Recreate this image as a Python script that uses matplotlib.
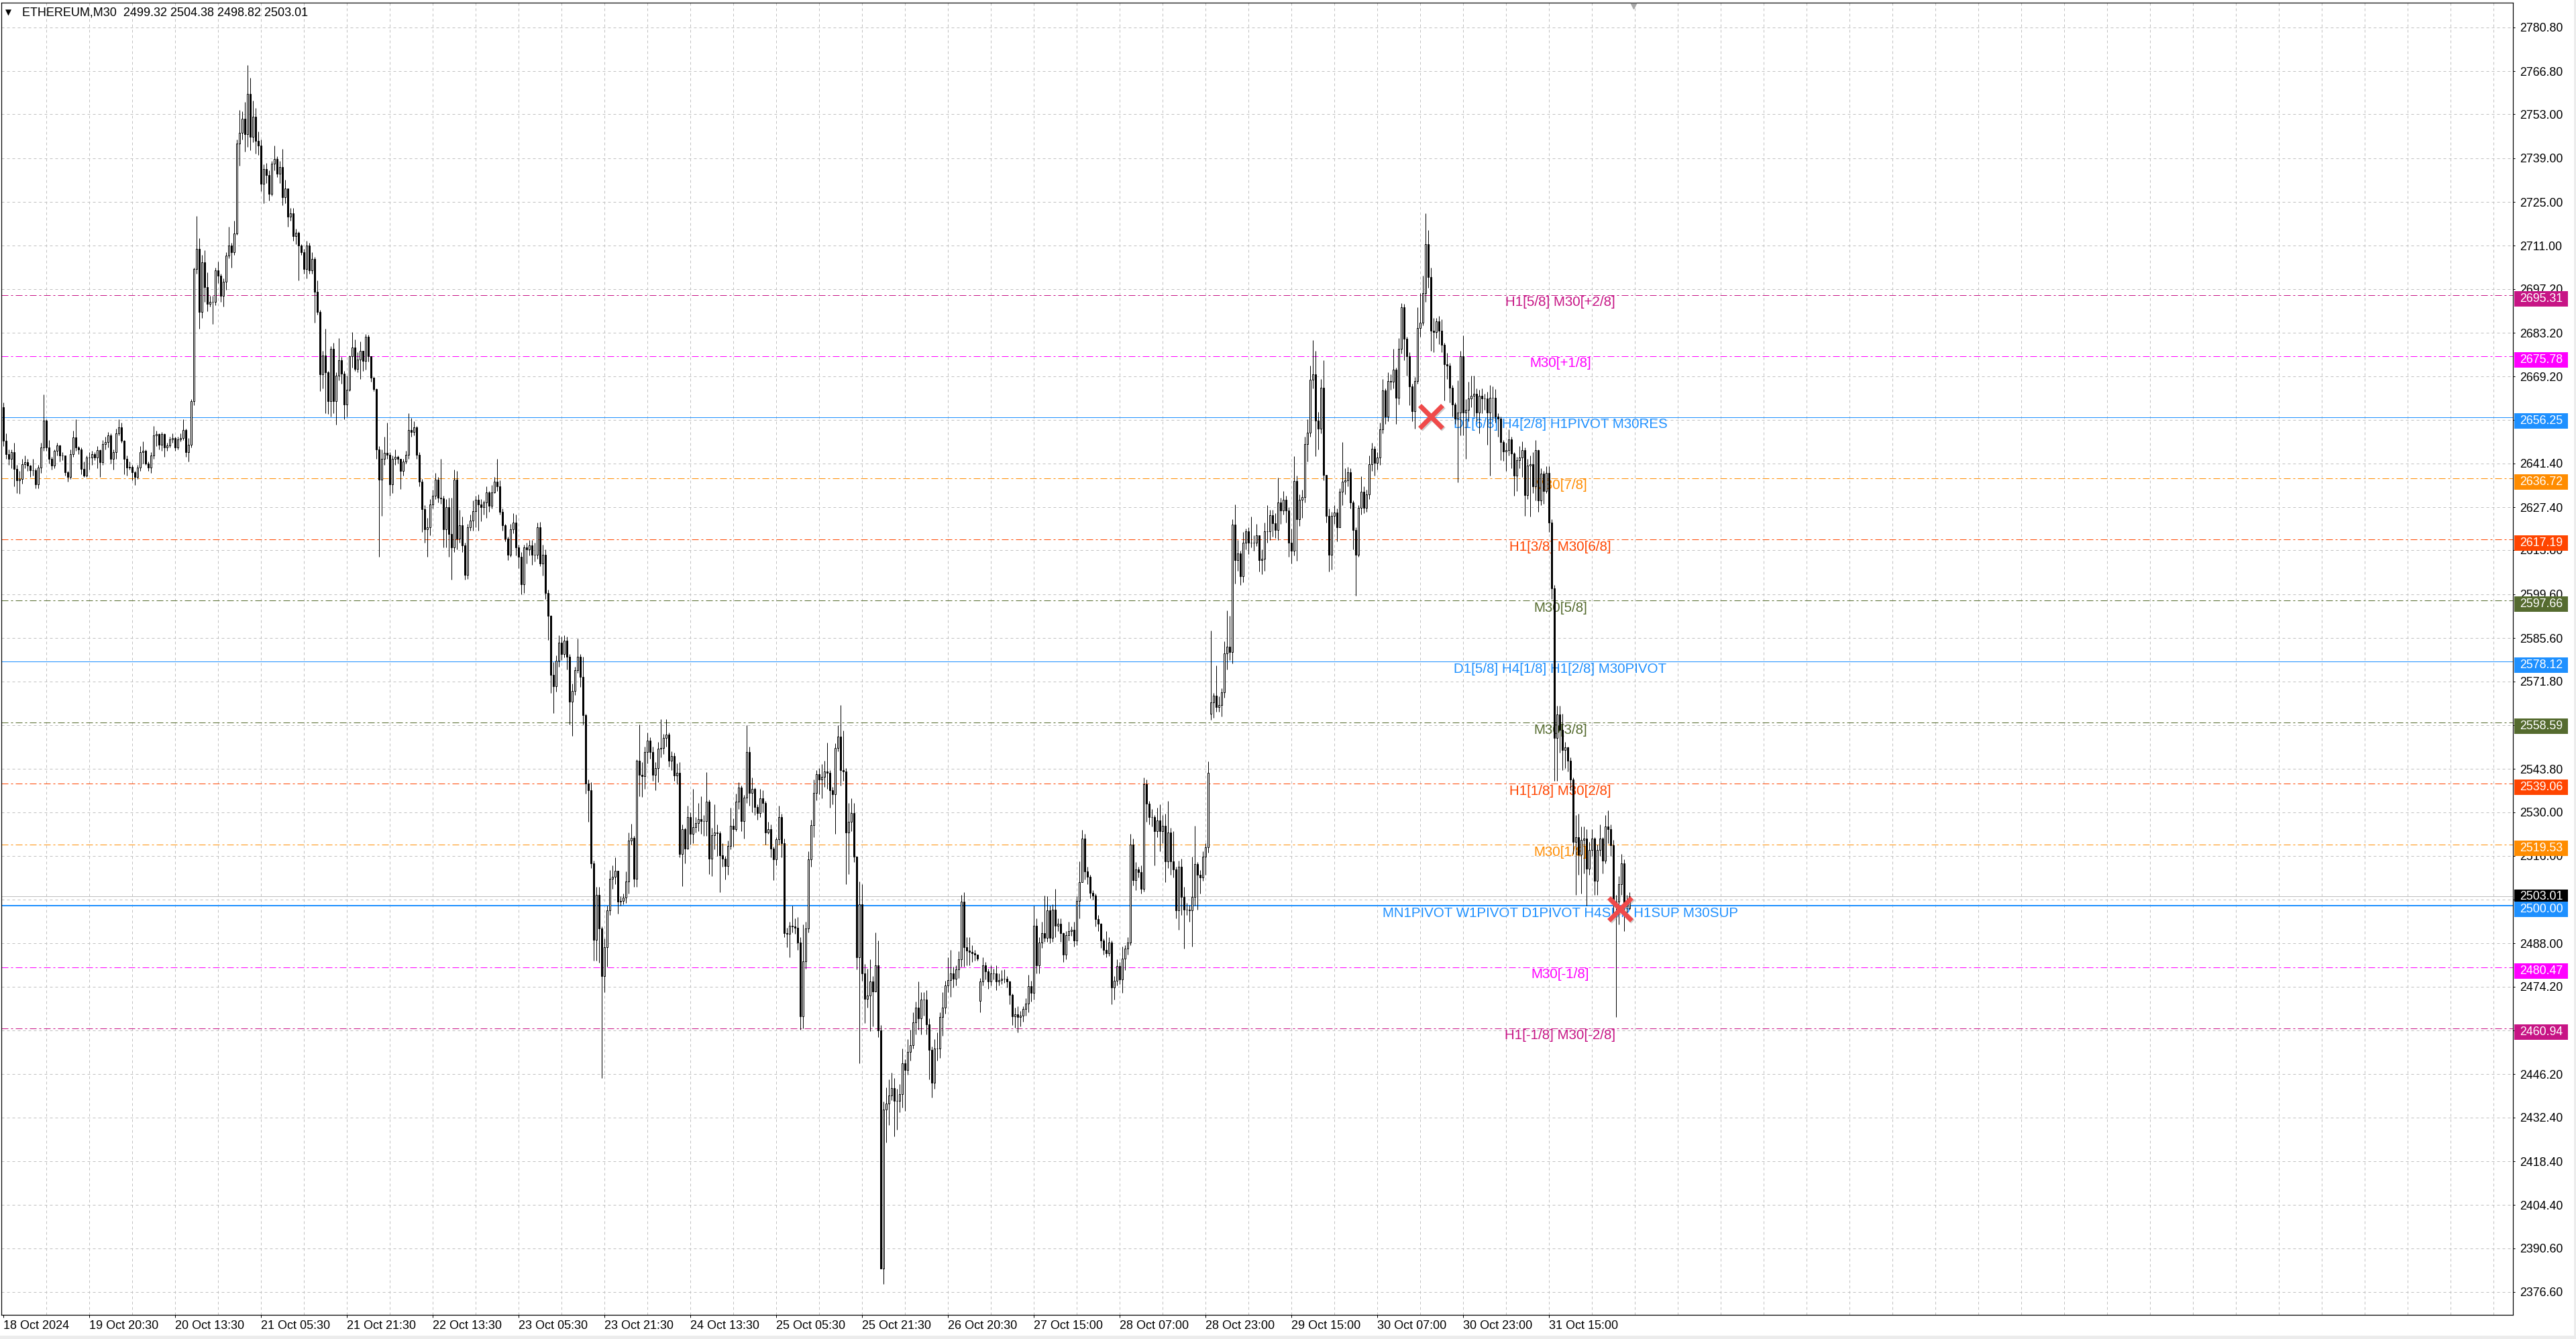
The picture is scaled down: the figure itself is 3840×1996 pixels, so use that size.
import matplotlib
matplotlib.use("Agg")
import matplotlib.pyplot as plt
from matplotlib.patches import Rectangle
from matplotlib.transforms import blended_transform_factory, offset_copy

plt.rcParams['font.family'] = ['Liberation Sans', 'DejaVu Sans']

TITLE = "ETHEREUM,M30  2499.32 2504.38 2498.82 2503.01"

FIRST_OPEN = 2659.4
GAP_OPEN = {364: 2469.7, 450: 2561.5, 606: 2499.32}

CLOSE = [
    2648.7, 2644.4, 2642.8, 2645.0, 2639.6, 2636.0, 2636.5, 2641.2, 2641.8, 2640.7,
    2639.3, 2639.3, 2634.8, 2640.2, 2646.6, 2655.1, 2646.6, 2642.8, 2640.7, 2645.5,
    2647.1, 2643.9, 2643.9, 2638.6, 2637.0, 2644.4, 2649.8, 2646.6, 2646.0, 2639.6,
    2637.5, 2643.4, 2643.4, 2644.4, 2643.4, 2645.7, 2641.8, 2647.6, 2648.2, 2650.3,
    2642.8, 2645.0, 2651.0, 2653.0, 2648.7, 2643.0, 2640.2, 2640.4, 2638.6, 2637.0,
    2640.2, 2645.0, 2645.5, 2641.5, 2640.2, 2643.9, 2650.3, 2650.8, 2647.5, 2650.8,
    2646.6, 2647.1, 2649.2, 2649.6, 2646.6, 2649.2, 2649.6, 2652.1, 2645.0, 2647.4,
    2661.3, 2703.6, 2710.0, 2689.8, 2705.8, 2697.8, 2692.4, 2693.0, 2693.0, 2703.1,
    2701.5, 2695.1, 2699.4, 2707.9, 2711.1, 2709.0, 2715.0, 2743.6, 2747.0, 2751.6,
    2746.6, 2759.6, 2745.8, 2752.2, 2744.5, 2743.1, 2730.8, 2735.6, 2733.5, 2727.6,
    2737.2, 2738.8, 2734.0, 2736.2, 2726.6, 2729.2, 2720.2, 2721.3, 2714.0, 2715.1,
    2711.1, 2709.0, 2703.6, 2711.1, 2703.1, 2706.8, 2696.2, 2689.8, 2670.0, 2676.0,
    2670.5, 2661.3, 2678.1, 2661.3, 2669.5, 2674.5, 2670.2, 2660.2, 2664.9, 2675.6,
    2678.4, 2671.7, 2674.7, 2677.4, 2674.2, 2682.0, 2675.6, 2668.8, 2665.2, 2645.9,
    2636.2, 2642.8, 2644.9, 2644.2, 2634.8, 2642.8, 2643.5, 2642.8, 2639.1, 2642.0,
    2644.2, 2652.2, 2651.5, 2652.9, 2644.2, 2635.5, 2626.8, 2620.3, 2621.0, 2628.3,
    2631.2, 2636.2, 2630.4, 2630.2, 2620.3, 2627.5, 2618.8, 2614.5, 2636.2, 2617.4,
    2621.7, 2615.2, 2605.8, 2621.0, 2623.2, 2626.1, 2629.8, 2628.3, 2627.5, 2629.0,
    2632.2, 2627.8, 2632.2, 2635.5, 2634.0, 2626.0, 2621.7, 2617.4, 2612.3, 2620.3,
    2622.5, 2614.5, 2611.6, 2602.9, 2614.5, 2614.0, 2615.2, 2612.3, 2612.3, 2621.0,
    2609.4, 2612.3, 2600.0, 2592.7, 2573.9, 2570.3, 2578.3, 2584.1, 2580.4, 2584.8,
    2579.7, 2565.2, 2568.8, 2575.4, 2579.7, 2573.2, 2560.9, 2539.1, 2536.9, 2513.7,
    2489.1, 2503.6, 2492.7, 2477.5, 2486.9, 2498.5, 2508.7, 2509.4, 2511.3, 2501.4,
    2501.7, 2502.6, 2507.9, 2521.0, 2521.7, 2508.7, 2546.4, 2542.0, 2541.5, 2549.3,
    2552.9, 2549.3, 2542.0, 2544.0, 2550.3, 2550.5, 2553.8, 2554.7, 2546.4, 2547.9,
    2541.7, 2542.5, 2516.5, 2524.5, 2518.3, 2528.4, 2523.0, 2525.2, 2526.5, 2527.8,
    2527.1, 2527.1, 2533.4, 2515.2, 2522.6, 2523.5, 2523.2, 2516.1, 2515.2, 2512.8,
    2519.1, 2525.6, 2524.5, 2533.4, 2537.8, 2527.1, 2534.7, 2549.2, 2536.2, 2537.3,
    2531.7, 2529.7, 2534.3, 2533.0, 2523.5, 2524.5, 2518.3, 2514.8, 2521.3, 2528.4,
    2520.0, 2491.4, 2491.0, 2493.6, 2493.4, 2493.1, 2488.4, 2464.8, 2482.3, 2492.7,
    2514.8, 2525.8, 2536.2, 2542.1, 2540.4, 2541.2, 2543.0, 2542.5, 2536.9, 2535.6,
    2550.5, 2554.2, 2543.4, 2543.0, 2523.5, 2526.9, 2529.7, 2515.7, 2483.6, 2500.5,
    2478.4, 2470.2, 2471.3, 2475.8, 2472.6, 2481.0, 2460.2, 2384.2, 2434.9, 2436.9,
    2439.5, 2441.7, 2437.8, 2437.8, 2439.8, 2449.8, 2447.6, 2453.4, 2455.4, 2462.8,
    2467.4, 2464.1, 2470.0, 2470.0, 2462.2, 2454.1, 2443.4, 2454.4, 2454.4, 2464.5,
    2467.6, 2474.5, 2476.2, 2478.4, 2476.7, 2479.7, 2483.0, 2501.4, 2486.9, 2485.8,
    2485.3, 2484.9, 2484.5, 2483.2, 2475.8, 2481.0, 2479.1, 2475.8, 2478.4, 2478.4,
    2475.8, 2476.2, 2476.7, 2476.7, 2475.8, 2471.5, 2464.8, 2465.3, 2464.6, 2464.9,
    2467.0, 2468.8, 2474.4, 2472.3, 2493.6, 2481.0, 2488.4, 2491.2, 2489.8, 2498.5,
    2489.8, 2498.9, 2493.6, 2494.2, 2491.2, 2484.5, 2490.7, 2491.9, 2492.4, 2488.9,
    2501.7, 2507.6, 2521.6, 2511.1, 2509.4, 2504.1, 2503.4, 2495.9, 2494.2, 2488.9,
    2485.9, 2484.9, 2488.4, 2474.0, 2476.1, 2480.7, 2476.6, 2483.1, 2486.3, 2488.4,
    2519.5, 2508.2, 2511.7, 2510.8, 2505.5, 2538.8, 2532.7, 2528.3, 2528.3, 2524.0,
    2527.4, 2524.0, 2525.7, 2514.3, 2523.4, 2514.3, 2511.7, 2498.5, 2512.5, 2502.9,
    2498.9, 2498.9, 2498.5, 2502.9, 2513.4, 2509.9, 2509.1, 2515.7, 2518.7, 2542.6,
    2565.1, 2567.1, 2563.6, 2564.2, 2568.2, 2580.8, 2582.9, 2581.1, 2621.9, 2610.5,
    2612.6, 2605.3, 2616.2, 2619.7, 2616.2, 2616.2, 2616.2, 2618.4, 2610.5, 2610.9,
    2619.7, 2619.7, 2624.9, 2622.4, 2620.2, 2628.9, 2626.3, 2629.8, 2626.3, 2616.2,
    2613.5, 2635.9, 2623.7, 2629.8, 2630.7, 2647.7, 2651.2, 2668.3, 2670.0, 2655.2,
    2652.6, 2665.7, 2637.7, 2624.6, 2612.3, 2624.6, 2625.7, 2621.1, 2632.4, 2635.5,
    2636.0, 2638.6, 2628.9, 2620.2, 2612.3, 2627.2, 2632.4, 2627.2, 2631.6, 2641.2,
    2646.1, 2641.6, 2643.4, 2652.3, 2664.7, 2656.3, 2667.8, 2667.6, 2671.4, 2662.5,
    2678.1, 2691.4, 2681.2, 2675.8, 2666.1, 2658.1, 2667.8, 2684.7, 2686.5, 2695.8,
    2711.5, 2701.0, 2683.8, 2683.4, 2686.9, 2683.8, 2679.4, 2673.2, 2672.7, 2665.6,
    2660.3, 2655.8, 2657.6, 2675.8, 2657.6, 2658.5, 2662.1, 2663.0, 2663.8, 2657.6,
    2663.0, 2662.1, 2662.1, 2657.6, 2662.5, 2662.5, 2656.3, 2655.8, 2648.3, 2645.2,
    2645.6, 2649.2, 2644.7, 2637.6, 2642.5, 2643.4, 2645.6, 2631.4, 2640.7, 2641.2,
    2634.1, 2645.6, 2629.6, 2638.1, 2632.7, 2638.5, 2622.5, 2601.6, 2553.6, 2561.1,
    2556.2, 2549.8, 2550.6, 2546.4, 2540.4, 2520.5, 2522.0, 2516.3, 2521.2, 2521.6,
    2511.8, 2517.8, 2521.6, 2508.1, 2517.8, 2521.6, 2514.5, 2525.4, 2524.5, 2519.3,
    2500.5, 2501.3, 2506.9, 2513.7, 2499.8, 2501.3, 2503.01,
]

HIGH = [
    2661.0, 2651.0, 2646.0, 2646.0, 2648.0, 2641.0, 2639.0, 2643.0, 2644.0, 2643.0,
    2641.0, 2643.0, 2640.0, 2641.0, 2648.0, 2663.5, 2655.5, 2649.0, 2643.5, 2646.0,
    2648.0, 2647.5, 2645.0, 2644.0, 2639.0, 2646.0, 2652.0, 2655.5, 2647.0, 2646.5,
    2642.0, 2644.0, 2645.0, 2645.5, 2645.0, 2647.0, 2646.0, 2649.0, 2650.0, 2651.5,
    2651.0, 2646.0, 2652.5, 2655.5, 2654.5, 2649.0, 2644.0, 2642.0, 2641.0, 2639.0,
    2641.0, 2647.0, 2648.5, 2646.0, 2642.0, 2645.0, 2653.5, 2652.0, 2651.0, 2651.5,
    2651.0, 2648.0, 2650.0, 2651.0, 2650.0, 2650.0, 2651.0, 2655.5, 2652.5, 2649.5,
    2662.0, 2704.0, 2720.5, 2713.5, 2708.0, 2709.5, 2702.5, 2695.0, 2695.0, 2704.0,
    2706.0, 2702.0, 2700.5, 2709.0, 2717.0, 2712.0, 2719.0, 2745.0, 2754.3, 2754.0,
    2757.0, 2768.7, 2764.7, 2757.5, 2755.0, 2747.5, 2745.0, 2737.0, 2737.5, 2735.0,
    2738.0, 2743.0, 2739.5, 2738.0, 2742.0, 2732.0, 2729.0, 2723.0, 2723.0, 2716.5,
    2715.5, 2711.5, 2710.0, 2712.5, 2712.0, 2709.0, 2707.5, 2700.0, 2690.5, 2677.5,
    2684.5, 2671.0, 2679.0, 2680.0, 2670.5, 2681.5, 2675.5, 2671.0, 2669.5, 2676.0,
    2683.5, 2681.0, 2677.0, 2680.5, 2677.5, 2682.7, 2682.5, 2675.6, 2669.0, 2665.5,
    2647.0, 2646.0, 2650.0, 2654.4, 2645.0, 2644.0, 2646.0, 2644.0, 2643.0, 2643.0,
    2645.5, 2657.5, 2656.0, 2655.0, 2653.5, 2645.0, 2636.5, 2628.0, 2624.0, 2630.0,
    2633.0, 2638.5, 2637.0, 2642.8, 2631.0, 2630.0, 2630.5, 2630.5, 2639.5, 2639.1,
    2626.5, 2624.5, 2616.0, 2622.0, 2625.0, 2629.5, 2631.0, 2631.5, 2630.0, 2629.5,
    2634.0, 2632.5, 2634.5, 2637.0, 2642.8, 2636.0, 2627.0, 2622.0, 2618.0, 2622.0,
    2625.5, 2625.0, 2615.5, 2613.0, 2615.5, 2616.0, 2617.0, 2617.0, 2616.0, 2622.5,
    2622.8, 2615.5, 2614.0, 2601.0, 2593.0, 2578.0, 2580.0, 2586.5, 2586.0, 2586.5,
    2586.0, 2580.5, 2571.0, 2576.5, 2585.5, 2580.5, 2579.7, 2561.5, 2540.5, 2539.5,
    2514.5, 2506.0, 2506.0, 2493.5, 2489.5, 2500.0, 2511.5, 2513.0, 2515.5, 2506.0,
    2503.0, 2504.0, 2511.0, 2523.5, 2526.3, 2522.5, 2546.8, 2558.0, 2546.0, 2551.0,
    2555.5, 2554.0, 2551.0, 2546.0, 2552.5, 2559.6, 2555.0, 2559.6, 2555.5, 2549.5,
    2549.0, 2545.5, 2546.0, 2526.0, 2525.0, 2532.0, 2530.0, 2537.5, 2528.5, 2533.0,
    2535.0, 2529.0, 2542.7, 2534.0, 2525.0, 2532.5, 2526.0, 2524.0, 2520.0, 2516.0,
    2521.0, 2531.5, 2528.0, 2536.0, 2539.5, 2538.5, 2535.5, 2557.7, 2551.0, 2541.0,
    2537.8, 2532.5, 2537.5, 2537.0, 2533.5, 2527.0, 2526.0, 2519.0, 2522.0, 2532.0,
    2529.5, 2521.5, 2493.0, 2495.0, 2500.1, 2496.0, 2496.5, 2490.0, 2494.0, 2495.0,
    2517.4, 2527.5, 2540.5, 2543.5, 2544.0, 2545.3, 2546.5, 2552.1, 2543.5, 2538.0,
    2552.0, 2557.7, 2564.2, 2556.0, 2544.0, 2533.0, 2534.5, 2533.0, 2515.7, 2507.8,
    2507.0, 2481.5, 2480.0, 2483.0, 2477.5, 2491.5, 2489.0, 2462.0, 2437.5, 2442.0,
    2444.5, 2446.6, 2445.0, 2441.5, 2443.0, 2454.5, 2451.0, 2457.5, 2460.5, 2466.0,
    2469.5, 2475.8, 2472.5, 2472.5, 2473.0, 2464.0, 2455.0, 2457.5, 2459.5, 2466.0,
    2472.5, 2476.0, 2483.6, 2486.0, 2480.5, 2481.0, 2485.5, 2503.5, 2504.4, 2490.0,
    2490.0, 2487.5, 2486.0, 2484.0, 2477.0, 2483.5, 2482.0, 2480.0, 2481.0, 2480.0,
    2481.0, 2478.5, 2479.5, 2479.7, 2477.5, 2476.0, 2472.0, 2467.5, 2468.0, 2466.5,
    2468.0, 2470.5, 2478.0, 2476.0, 2500.0, 2496.0, 2490.0, 2495.0, 2503.4, 2503.0,
    2500.0, 2500.5, 2505.5, 2496.0, 2496.0, 2491.5, 2492.0, 2495.0, 2493.5, 2495.0,
    2503.0, 2514.3, 2524.4, 2523.0, 2512.5, 2510.0, 2505.0, 2504.0, 2497.0, 2494.5,
    2489.5, 2492.0, 2490.0, 2489.0, 2477.5, 2483.0, 2482.0, 2487.0, 2487.5, 2490.0,
    2523.0, 2521.5, 2514.0, 2512.5, 2513.0, 2541.0, 2540.3, 2533.5, 2531.0, 2529.0,
    2531.5, 2532.5, 2529.0, 2529.5, 2533.5, 2525.0, 2524.0, 2512.5, 2514.5, 2515.0,
    2506.0, 2501.0, 2500.3, 2515.7, 2525.7, 2514.0, 2511.5, 2517.5, 2520.0, 2546.1,
    2588.1, 2568.0, 2576.9, 2567.0, 2569.5, 2584.5, 2594.4, 2592.7, 2623.5, 2628.4,
    2617.0, 2613.5, 2619.5, 2620.5, 2621.0, 2624.5, 2618.5, 2622.0, 2618.0, 2614.0,
    2622.5, 2628.0, 2626.5, 2626.5, 2625.5, 2636.8, 2630.5, 2632.5, 2631.0, 2627.5,
    2620.5, 2643.8, 2637.5, 2631.5, 2633.0, 2650.0, 2655.5, 2672.6, 2680.9, 2677.4,
    2658.0, 2668.5, 2674.4, 2637.5, 2627.0, 2626.0, 2628.0, 2627.0, 2633.5, 2648.2,
    2640.0, 2640.3, 2640.0, 2629.5, 2621.0, 2628.0, 2637.4, 2634.0, 2633.0, 2644.0,
    2648.0, 2647.0, 2645.0, 2654.5, 2668.5, 2665.5, 2670.5, 2670.0, 2678.0, 2672.0,
    2681.5, 2692.7, 2692.5, 2682.0, 2677.0, 2667.0, 2669.0, 2691.4, 2695.8, 2701.5,
    2721.4, 2716.0, 2704.0, 2688.0, 2688.0, 2688.5, 2687.5, 2680.0, 2676.7, 2673.5,
    2666.5, 2661.0, 2668.0, 2677.5, 2682.3, 2662.0, 2667.5, 2669.5, 2669.5, 2665.5,
    2665.0, 2665.5, 2663.8, 2664.3, 2666.5, 2666.0, 2665.3, 2657.5, 2656.5, 2649.0,
    2648.0, 2652.3, 2650.0, 2645.0, 2643.5, 2647.0, 2648.5, 2646.5, 2643.0, 2644.0,
    2645.0, 2649.0, 2646.0, 2640.0, 2639.0, 2640.5, 2640.5, 2623.5, 2602.5, 2564.0,
    2564.0, 2561.5, 2552.5, 2551.0, 2547.5, 2541.0, 2529.1, 2529.5, 2525.5, 2525.4,
    2524.5, 2520.5, 2524.5, 2522.0, 2519.5, 2526.0, 2522.0, 2529.1, 2530.5, 2526.0,
    2521.2, 2503.5, 2509.5, 2516.5, 2514.8, 2503.5, 2504.38,
]

LOW = [
    2647.0, 2643.0, 2641.0, 2640.0, 2634.0, 2632.0, 2631.8, 2635.0, 2640.0, 2639.0,
    2637.0, 2637.5, 2633.5, 2633.5, 2638.5, 2645.5, 2645.5, 2641.5, 2639.5, 2640.0,
    2644.0, 2642.0, 2642.5, 2637.5, 2635.5, 2636.5, 2643.5, 2645.5, 2644.5, 2638.0,
    2637.0, 2637.0, 2639.5, 2641.0, 2642.5, 2640.0, 2637.0, 2641.0, 2646.0, 2646.5,
    2641.5, 2639.5, 2643.0, 2650.5, 2648.0, 2638.0, 2637.5, 2639.5, 2636.0, 2634.5,
    2636.5, 2639.0, 2641.5, 2641.0, 2639.0, 2638.5, 2643.0, 2647.0, 2646.0, 2645.5,
    2643.5, 2645.5, 2646.5, 2648.0, 2645.5, 2646.0, 2648.5, 2649.0, 2643.5, 2642.0,
    2646.5, 2660.0, 2702.0, 2684.5, 2688.0, 2693.0, 2690.0, 2691.5, 2686.0, 2692.0,
    2699.0, 2693.0, 2691.5, 2697.0, 2707.0, 2704.0, 2708.0, 2714.5, 2736.5, 2745.0,
    2741.0, 2742.5, 2741.5, 2744.0, 2740.5, 2740.0, 2728.5, 2724.5, 2731.0, 2725.5,
    2727.0, 2735.0, 2733.0, 2731.0, 2724.0, 2724.5, 2717.0, 2719.0, 2712.5, 2711.5,
    2700.0, 2708.0, 2702.0, 2700.5, 2702.0, 2702.0, 2686.5, 2689.0, 2664.5, 2665.5,
    2657.5, 2657.2, 2656.5, 2657.5, 2653.8, 2668.0, 2667.0, 2655.5, 2656.3, 2664.5,
    2672.0, 2671.0, 2670.5, 2668.5, 2671.0, 2671.5, 2674.0, 2667.5, 2664.5, 2643.0,
    2611.6, 2624.6, 2641.0, 2643.0, 2631.0, 2632.0, 2641.0, 2641.5, 2633.3, 2637.5,
    2641.5, 2643.0, 2650.0, 2650.5, 2643.0, 2634.0, 2619.6, 2616.0, 2611.6, 2618.5,
    2627.0, 2630.0, 2629.0, 2628.5, 2614.5, 2614.5, 2611.5, 2604.3, 2613.0, 2614.0,
    2616.0, 2613.0, 2604.3, 2604.5, 2620.0, 2620.0, 2621.0, 2620.0, 2623.0, 2625.0,
    2624.0, 2626.0, 2627.0, 2632.0, 2632.5, 2625.0, 2620.0, 2616.5, 2610.5, 2611.5,
    2619.0, 2612.0, 2608.0, 2599.5, 2600.0, 2609.5, 2612.0, 2609.0, 2610.0, 2611.0,
    2608.5, 2605.5, 2598.0, 2585.0, 2568.0, 2561.6, 2568.5, 2576.5, 2578.5, 2579.5,
    2575.5, 2558.0, 2554.3, 2567.5, 2574.5, 2570.0, 2558.0, 2536.0, 2526.8, 2512.0,
    2482.6, 2482.5, 2481.8, 2444.9, 2472.4, 2480.5, 2497.0, 2505.5, 2507.0, 2497.5,
    2500.0, 2500.5, 2501.0, 2504.0, 2519.5, 2506.0, 2506.0, 2535.0, 2534.8, 2537.5,
    2545.5, 2547.0, 2540.0, 2537.0, 2539.5, 2547.5, 2548.5, 2551.0, 2544.5, 2543.5,
    2540.0, 2539.0, 2515.5, 2506.4, 2513.5, 2518.0, 2519.5, 2520.0, 2523.5, 2524.0,
    2523.0, 2522.5, 2522.5, 2510.2, 2509.5, 2518.0, 2516.0, 2504.4, 2512.5, 2508.5,
    2510.0, 2518.0, 2519.0, 2524.0, 2531.0, 2524.0, 2521.5, 2533.0, 2532.0, 2530.0,
    2529.0, 2527.5, 2528.5, 2530.0, 2519.5, 2523.0, 2515.5, 2508.3, 2513.0, 2519.5,
    2515.5, 2490.0, 2486.9, 2483.6, 2491.5, 2491.0, 2486.0, 2460.5, 2460.9, 2480.0,
    2491.5, 2512.5, 2522.0, 2533.8, 2535.6, 2534.5, 2538.0, 2537.5, 2531.5, 2532.5,
    2523.0, 2549.5, 2538.5, 2540.0, 2507.0, 2510.2, 2524.0, 2514.0, 2479.7, 2449.8,
    2476.0, 2462.5, 2467.5, 2460.0, 2461.5, 2473.0, 2458.0, 2384.0, 2379.1, 2424.5,
    2430.0, 2438.0, 2426.3, 2428.5, 2434.0, 2435.5, 2434.5, 2446.0, 2450.5, 2454.5,
    2459.0, 2460.5, 2459.0, 2465.0, 2459.0, 2444.5, 2438.8, 2441.5, 2450.5, 2451.5,
    2458.5, 2465.5, 2472.5, 2471.0, 2474.0, 2474.5, 2477.0, 2480.5, 2480.5, 2481.0,
    2481.0, 2482.0, 2482.5, 2482.5, 2466.0, 2474.5, 2476.5, 2473.5, 2474.5, 2476.5,
    2473.0, 2474.5, 2475.0, 2475.5, 2474.0, 2468.5, 2462.0, 2461.0, 2459.5, 2461.5,
    2463.0, 2465.0, 2466.0, 2469.5, 2470.0, 2478.5, 2478.5, 2486.5, 2488.5, 2488.5,
    2488.0, 2488.5, 2490.0, 2492.0, 2488.5, 2482.0, 2483.0, 2489.0, 2490.5, 2487.0,
    2487.5, 2496.0, 2511.0, 2508.5, 2507.0, 2502.5, 2502.0, 2493.5, 2492.0, 2486.5,
    2484.5, 2483.5, 2484.0, 2468.5, 2470.0, 2474.5, 2475.0, 2472.3, 2479.5, 2484.5,
    2487.5, 2506.5, 2505.0, 2509.0, 2504.0, 2504.5, 2527.0, 2526.0, 2525.5, 2513.0,
    2522.0, 2517.4, 2520.0, 2507.6, 2512.0, 2510.0, 2509.0, 2496.0, 2492.4, 2497.0,
    2486.3, 2497.0, 2495.0, 2487.0, 2500.0, 2498.9, 2504.0, 2508.0, 2510.0, 2517.0,
    2559.4, 2560.2, 2562.0, 2562.0, 2560.6, 2566.5, 2575.5, 2578.5, 2577.5, 2603.0,
    2607.0, 2602.5, 2603.5, 2614.0, 2612.5, 2614.5, 2613.5, 2615.0, 2606.9, 2606.0,
    2607.0, 2616.0, 2617.0, 2618.0, 2617.5, 2617.0, 2622.0, 2625.0, 2622.5, 2611.5,
    2609.5, 2612.0, 2610.2, 2621.5, 2624.0, 2629.0, 2642.0, 2650.0, 2665.5, 2643.8,
    2646.0, 2651.0, 2636.0, 2622.5, 2606.9, 2607.5, 2622.0, 2616.5, 2621.0, 2628.0,
    2631.5, 2634.0, 2627.0, 2614.0, 2599.2, 2611.5, 2625.0, 2625.5, 2626.0, 2630.0,
    2639.0, 2637.5, 2639.5, 2641.0, 2651.0, 2654.0, 2655.0, 2665.0, 2665.5, 2654.0,
    2660.3, 2676.5, 2674.5, 2669.5, 2660.0, 2655.0, 2652.5, 2667.0, 2682.0, 2685.5,
    2693.0, 2697.5, 2677.5, 2677.0, 2681.5, 2679.5, 2677.0, 2661.5, 2668.5, 2661.0,
    2656.5, 2654.0, 2635.4, 2650.5, 2650.5, 2643.0, 2655.0, 2659.5, 2656.5, 2655.0,
    2651.0, 2657.5, 2658.5, 2647.5, 2637.6, 2655.5, 2654.5, 2650.0, 2642.5, 2642.2,
    2639.0, 2644.0, 2640.0, 2631.0, 2632.5, 2640.0, 2637.0, 2624.7, 2630.0, 2624.5,
    2632.0, 2629.6, 2626.0, 2628.0, 2628.5, 2632.0, 2619.5, 2598.0, 2540.0, 2540.0,
    2549.0, 2543.5, 2544.0, 2543.0, 2537.0, 2516.5, 2503.5, 2510.0, 2504.0, 2510.3,
    2500.2, 2510.0, 2516.0, 2503.5, 2503.5, 2516.0, 2510.3, 2513.5, 2520.0, 2516.0,
    2497.0, 2464.4, 2494.0, 2503.5, 2492.0, 2497.0, 2498.82,
]

X_LABEL_BARS = [0, 32, 64, 96, 128, 160, 192, 224, 256, 288, 320, 352, 384,
                416, 448, 480, 512, 544, 576]
X_LABELS = ["18 Oct 2024", "19 Oct 20:30", "20 Oct 13:30", "21 Oct 05:30",
            "21 Oct 21:30", "22 Oct 13:30", "23 Oct 05:30", "23 Oct 21:30",
            "24 Oct 13:30", "25 Oct 05:30", "25 Oct 21:30", "26 Oct 20:30",
            "27 Oct 15:00", "28 Oct 07:00", "28 Oct 23:00", "29 Oct 15:00",
            "30 Oct 07:00", "30 Oct 23:00", "31 Oct 15:00"]

Y_TICKS = [2780.80, 2766.80, 2753.00, 2739.00, 2725.00, 2711.00, 2697.20, 2683.20,
           2669.20, 2655.40, 2641.40, 2627.40, 2613.80, 2599.60, 2585.60, 2571.80,
           2557.80, 2543.80, 2530.00, 2516.00, 2502.00, 2488.00, 2474.20, 2460.20,
           2446.20, 2432.40, 2418.40, 2404.40, 2390.60, 2376.60]

LEVEL_PRICES = [2695.31, 2675.78, 2656.25, 2636.72, 2617.19, 2597.66, 2578.12,
                2558.59, 2539.06, 2519.53, 2500.00, 2480.47, 2460.94]
LEVEL_NAMES = ["H1[5/8] M30[+2/8]", "M30[+1/8]", "D1[6/8] H4[2/8] H1PIVOT M30RES",
               "M30[7/8]", "H1[3/8] M30[6/8]", "M30[5/8]",
               "D1[5/8] H4[1/8] H1[2/8] M30PIVOT", "M30[3/8]", "H1[1/8] M30[2/8]",
               "M30[1/8]", "MN1PIVOT W1PIVOT D1PIVOT H4SUP H1SUP M30SUP",
               "M30[-1/8]", "H1[-1/8] M30[-2/8]"]
LEVEL_COLORS = ["#C71585", "#FF00FF", "#1E90FF", "#FF8C00", "#FF4500", "#556B2F",
                "#1E90FF", "#556B2F", "#FF4500", "#FF8C00", "#1E90FF", "#FF00FF",
                "#C71585"]
LEVEL_SOLID = [False, False, True, False, False, False, True, False, False, False,
               True, False, False]
LEVEL_THICK = [False] * 10 + [True, False, False]

CURRENT_PRICE = 2503.01
SIGNAL_BARS = [532, 602.5]
SIGNAL_PRICES = [2656.5, 2499.0]

# ---------------------------------------------------------------------------
W, H = 3840, 1996
fig = plt.figure(figsize=(W / 100, H / 100), dpi=100)
fig.patch.set_facecolor("white")
ax_l, ax_r, ax_t, ax_b = 2, 3746, 4, 1960
ax = fig.add_axes([ax_l / W, 1 - ax_b / H, (ax_r - ax_l) / W, (ax_b - ax_t) / H])
ax.set_facecolor("white")

n = len(CLOSE)
assert len(HIGH) == n and len(LOW) == n
OPEN = [FIRST_OPEN] + CLOSE[:-1]
for k, v in GAP_OPEN.items():
    OPEN[k] = v

ax.set_xlim(-0.75, 935.25)
ax.set_ylim(2369.3, 2788.7)

px = 0.72  # one pixel in points
grid_kw = dict(color="#C0C0C0", lw=px, linestyle=(0, (4, 4)), zorder=0.5)
for gx in range(16, 936, 16):
    ax.axvline(gx, **grid_kw)
for gy in Y_TICKS:
    ax.axhline(gy, **grid_kw)

# level lines
for price, name, col, solid, thick in zip(LEVEL_PRICES, LEVEL_NAMES, LEVEL_COLORS,
                                           LEVEL_SOLID, LEVEL_THICK):
    ls = "-" if solid else (0, (10, 4, 3, 4))
    ax.axhline(price, color=col, lw=2 * px if thick else px, linestyle=ls, zorder=1)
    ax.text(580.25, price - 0.35, name, color=col, fontsize=14.8, ha="center",
            va="top", zorder=1.5)

ax.axhline(CURRENT_PRICE, color="#C0C0C0", lw=px, zorder=1)

# candles
xs = list(range(n))
hi = [max(h, o, c) for h, o, c in zip(HIGH, OPEN, CLOSE)]
lo = [min(l, o, c) for l, o, c in zip(LOW, OPEN, CLOSE)]
ax.vlines(xs, lo, hi, color="black", lw=px, zorder=2)
bottoms = [min(o, c) for o, c in zip(OPEN, CLOSE)]
heights = [abs(c - o) for o, c in zip(OPEN, CLOSE)]
fills = ["white" if c >= o else "black" for o, c in zip(OPEN, CLOSE)]
ax.bar(xs, heights, bottom=bottoms, width=0.5, color=fills, edgecolor="black",
       linewidth=px, zorder=2.1)

# signal crosses
shadow = offset_copy(ax.transData, fig=fig, x=2, y=-2, units="dots")
ax.plot(SIGNAL_BARS, SIGNAL_PRICES, ls="none", marker="x", ms=24, mew=5.5,
        color="#909090", alpha=0.45, transform=shadow, zorder=5.9)
ax.plot(SIGNAL_BARS, SIGNAL_PRICES, ls="none", marker="x", ms=24, mew=5,
        color="#F04A4A", zorder=6)

# axes / ticks
for s in ax.spines.values():
    s.set_color("black")
    s.set_linewidth(px * 1.2)
ax.yaxis.tick_right()
ax.set_yticks(Y_TICKS)
ax.set_yticklabels([f"{v:.2f}" for v in Y_TICKS])
ax.tick_params(axis="y", length=2.5, width=px, pad=5, labelsize=12.8,
               colors="black", direction="out")
ax.set_xticks(X_LABEL_BARS)
ax.set_xticklabels(X_LABELS, ha="left")
ax.tick_params(axis="x", length=3, width=px, pad=3, labelsize=13, colors="black",
               direction="out")

# price boxes on the right axis
trans = blended_transform_factory(ax.transAxes, ax.transData)
x0 = (3748 - ax_l) / (ax_r - ax_l)
bw = 80 / (ax_r - ax_l)
ppx = (ax_b - ax_t) / (2788.7 - 2369.3)  # pixels per price unit


def price_box(price, center, color, hpx):
    h = hpx / ppx
    ax.add_patch(Rectangle((x0, center - h / 2), bw, h, transform=trans,
                           facecolor=color, edgecolor="none", clip_on=False,
                           zorder=5))
    ax.text(x0 + 8 / (ax_r - ax_l), center, f"{price:.2f}", transform=trans,
            color="white", fontsize=12.8, ha="left", va="center", zorder=6,
            clip_on=False)


price_box(CURRENT_PRICE, CURRENT_PRICE, "black", 20)
for price, col in zip(LEVEL_PRICES, LEVEL_COLORS):
    price_box(price, price - 5.5 / ppx, col, 23)

# shift marker at top
tb = blended_transform_factory(ax.transData, ax.transAxes)
ax.plot([607.5], [0.9975], marker="v", ms=6, color="#A8A8A8", transform=tb,
        clip_on=False, zorder=7)

# title
fig.text(8 / W, 1 - 19 / H, "\u25BC", fontsize=8.5, family="DejaVu Sans",
         va="center", ha="left", color="black")
fig.text(33 / W, 1 - 19 / H, TITLE, fontsize=13, va="center", ha="left",
         color="black")

# outer frame strips
fig.patches.append(Rectangle((0, 0), 1, 5 / H, transform=fig.transFigure,
                             facecolor="#ECECEC", edgecolor="none"))
fig.patches.append(Rectangle((1 - 3 / W, 0), 3 / W, 1, transform=fig.transFigure,
                             facecolor="#ECECEC", edgecolor="none"))

fig.savefig("out.png", dpi=100, facecolor="white")
